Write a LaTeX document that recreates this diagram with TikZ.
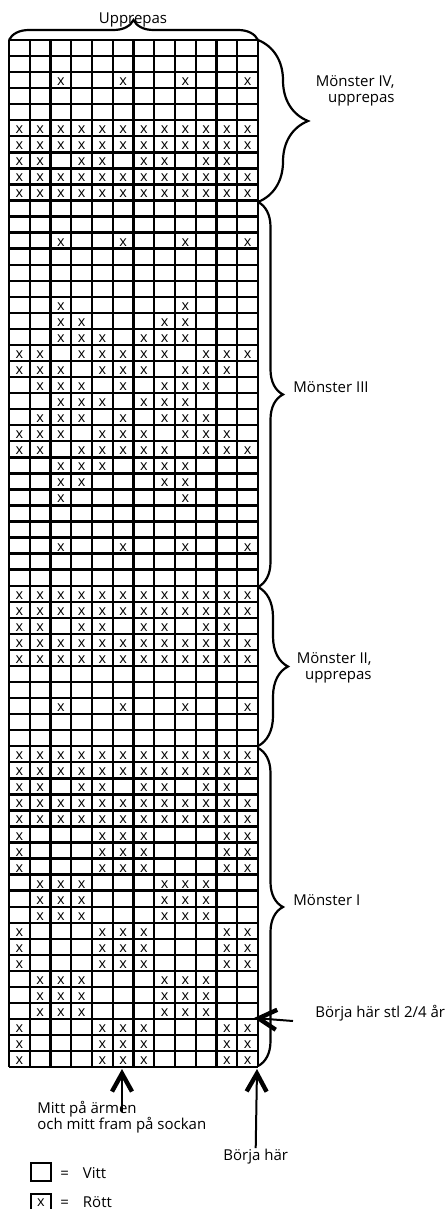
\documentclass[tikz,border=0pt]{standalone}
\usepackage{fontspec}
\setmainfont{Open Sans}
\usepackage{tikz}
\usetikzlibrary{positioning}
\usetikzlibrary{decorations.pathreplacing,calc,arrows.meta}

\begin{document}
\begin{tikzpicture}[x=0.5pt,y=-0.5pt,
  cell/.style={line width=1.2pt},
  kryss/.style={anchor=base,inner sep=0pt,font=\fontsize{7.2}{8}\selectfont},
  txt/.style={inner sep=0pt,font=\fontsize{7.5}{8.2}\selectfont},
  klammer/.style={decorate,decoration={brace,amplitude=#1},line width=1.1pt},
  pil/.style={-{Straight Barb[length=9pt,width=10pt,line width=2.2pt]},line width=1pt},
  ruta/.style={draw,line width=1.2pt,inner sep=0pt,minimum width=10pt,minimum height=9pt}]
\useasboundingbox (0,0) rectangle (448,1209);

\foreach \i in {0,...,12}
  \draw[cell] ({9+\i*20.75},40) -- ({9+\i*20.75},1067.2);
\foreach \j in {0,...,64}
  \draw[cell] (9,{40+\j*16.05}) -- (258,{40+\j*16.05});

\foreach \r/\cs in {3/{3,6,9,12},6/{1,...,12},7/{1,...,12},8/{1,2,4,5,7,8,10,11},
    9/{1,...,12},10/{1,...,12},13/{3,6,9,12},17/{3,9},18/{3,4,8,9},19/{3,4,5,7,8,9},
    20/{1,2,4,5,6,7,8,10,11,12},21/{1,2,3,5,6,7,9,10,11},22/{2,3,4,6,8,9,10},
    23/{3,4,5,7,8,9},24/{2,3,4,6,8,9,10},25/{1,2,3,5,6,7,9,10,11},
    26/{1,2,4,5,6,7,8,10,11,12},27/{3,4,5,7,8,9},28/{3,4,8,9},29/{3,9},32/{3,6,9,12},
    35/{1,...,12},36/{1,...,12},37/{1,2,4,5,7,8,10,11},38/{1,...,12},39/{1,...,12},
    42/{3,6,9,12},45/{1,...,12},46/{1,...,12},47/{1,2,4,5,7,8,10,11},48/{1,...,12},
    49/{1,...,12},50/{1,5,6,7,11,12},51/{1,5,6,7,11,12},52/{1,5,6,7,11,12},
    53/{2,3,4,8,9,10},54/{2,3,4,8,9,10},55/{2,3,4,8,9,10},56/{1,5,6,7,11,12},
    57/{1,5,6,7,11,12},58/{1,5,6,7,11,12},59/{2,3,4,8,9,10},60/{2,3,4,8,9,10},
    61/{2,3,4,8,9,10},62/{1,5,6,7,11,12},63/{1,5,6,7,11,12},64/{1,5,6,7,11,12}}
  \foreach \c in \cs
    \node[kryss] (x\r-\c) at ({9+(\c-0.5)*20.75},{40+\r*16.05-2.5}) {x};

\draw[klammer=10pt] (9,40) -- (258,40);
\draw[klammer=25pt] (258,40) -- (258,202);
\draw[klammer=12.5pt] (258,202) -- (258,587);
\draw[klammer=15pt] (258,587) -- (258,746);
\draw[klammer=12.5pt] (258,748) -- (258,1066);

\node[txt,anchor=base] (upprepas) at (133,24) {Upprepas};
\node[txt,anchor=east,align=right] (m4) at (395,91) {Mönster IV,\\upprepas};
\node[txt,anchor=base west] (m3) at (293,392) {Mönster III};
\node[txt,anchor=east,align=right] (m2) at (372,668) {Mönster II,\\upprepas};
\node[txt,anchor=base west] (m1) at (293,905) {Mönster I};
\node[txt,anchor=base west] (stl) at (315,1017) {Börja här stl 2/4 år};
\node[txt,anchor=west,align=left] (mitt) at (37,1117) {Mitt på ärmen\\och mitt fram på sockan};
\node[txt,anchor=base west] (borja) at (223,1160) {Börja här};

\coordinate (stlspets) at (254,1018);
\coordinate (stlfot) at (293,1021);
\coordinate (mittspets) at (122,1069);
\coordinate (mittfot) at (122,1112);
\coordinate (borjaspets) at (257,1069);
\draw[pil] (stlfot) -- (stlspets);
\draw[pil] (mittfot) -- (mittspets);
\draw[pil] (borja.north) -- (borjaspets);

\node[ruta] (vitt) at (41,1172) {};
\node[txt,anchor=base west] (vittxt) at (60,1178) {=\hspace{7pt}Vitt};
\node[ruta] (rott) at (41,1203) {};
\node[kryss] (rottx) at (41,1206) {x};
\node[txt,anchor=base west] (rottxt) at (60,1207) {=\hspace{7pt}Rött};
\end{tikzpicture}
\end{document}
